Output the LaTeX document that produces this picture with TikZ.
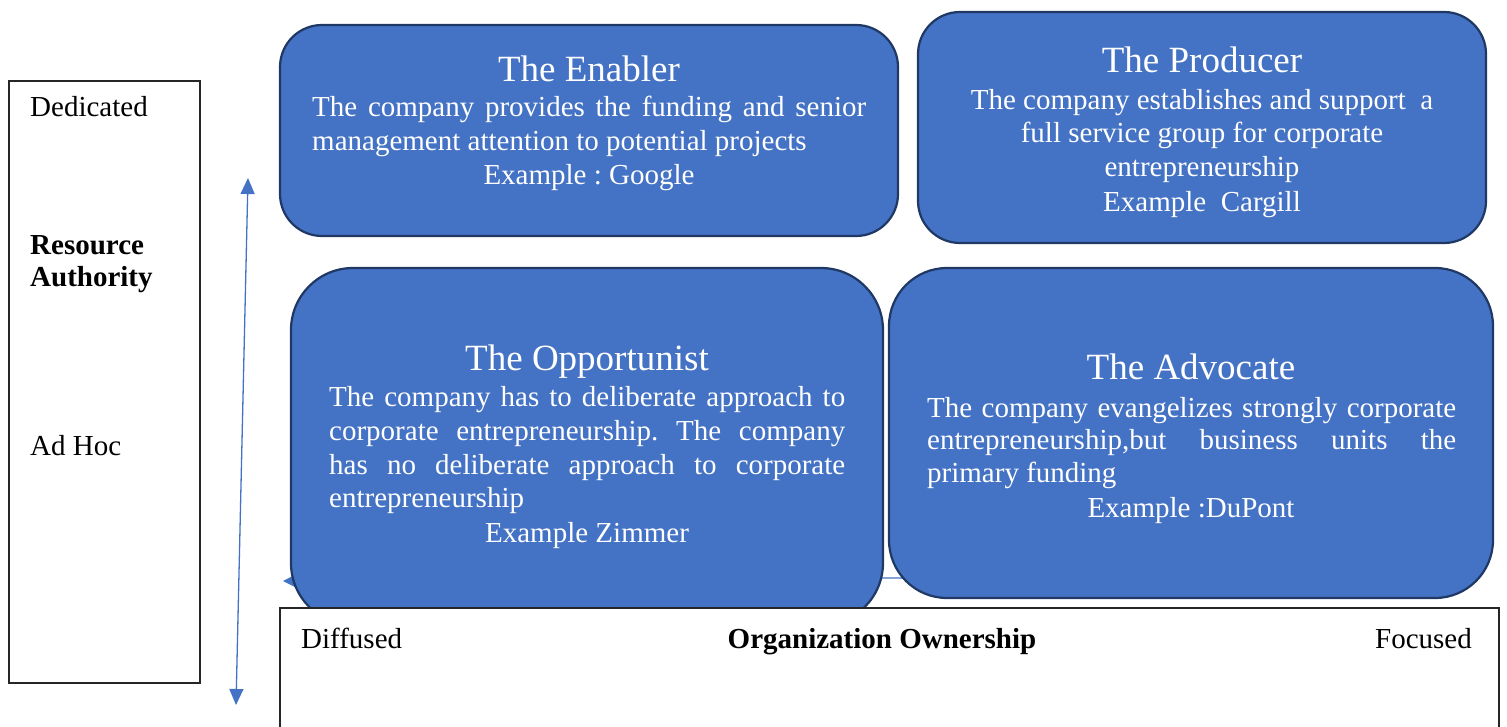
\documentclass[tikz,border=0pt]{standalone}
\usepackage{fontspec}
\setmainfont{Liberation Serif}
\usetikzlibrary{arrows.meta}
\definecolor{boxblue}{HTML}{4472C4}
\definecolor{boxedge}{HTML}{1F3864}
\frenchspacing
\begin{document}
\begin{tikzpicture}[x=1pt,y=-1pt,
  quad/.style={draw=boxedge, line width=2.2pt, fill=boxblue, rectangle, inner sep=0pt},
  ttl/.style={text=white, font=\fontsize{37}{44}\selectfont, inner sep=0pt, anchor=base},
  bod/.style={text=white, font=\fontsize{29}{34}\selectfont, inner sep=0pt, anchor=base west},
  bodc/.style={text=white, font=\fontsize{29}{34}\selectfont, inner sep=0pt, anchor=base},
  lbl/.style={text=black, font=\fontsize{29}{34}\selectfont, inner sep=0pt, anchor=base west},
  plainbox/.style={draw=black!85, line width=1.2pt, fill=white, rectangle, inner sep=0pt},
  vline/.style={draw=boxblue, line width=1.3pt, {Triangle[length=16pt,width=14pt]}-{Triangle[length=16pt,width=14pt]}},
  hline/.style={draw=boxblue, line width=1.3pt, -{Triangle[length=14pt,width=14pt]}},
]
\path[use as bounding box] (0,0) rectangle (1507,727);

% horizontal arrow (behind the boxes)
\coordinate (hstart) at (1300,576);
\coordinate (hend) at (283,581);
\draw[hline] (hstart) -- (hend);

% quadrant boxes
\node[quad, rounded corners=42pt, minimum width=618pt, minimum height=211pt] (enabler) at (589,130.5) {};
\node[quad, rounded corners=42pt, minimum width=568pt, minimum height=231pt] (producer) at (1202,127.5) {};
\node[quad, rounded corners=62pt, minimum width=592pt, minimum height=357pt] (opport) at (587,446.5) {};
\node[quad, rounded corners=58pt, minimum width=604pt, minimum height=330pt] (advocate) at (1191,433) {};

% Enabler text
\node[ttl] (enT) at (589,82) {The Enabler};
\node[bod] (en1) at (312,117) {\makebox[554pt][s]{The company provides the funding and senior}};
\node[bod] (en2) at (312,151) {management attention to potential projects};
\node[bodc] (en3) at (589,185) {Example : Google};

% Producer text
\node[ttl] (prT) at (1202,73) {The Producer};
\node[bodc] (pr1) at (1202,110) {The company establishes and support~ a};
\node[bodc] (pr2) at (1202,143) {full service group for corporate};
\node[bodc] (pr3) at (1202,177) {entrepreneurship};
\node[bodc] (pr4) at (1202,212) {Example~ Cargill};

% Opportunist text
\node[ttl] (opT) at (587,370) {The Opportunist};
\node[bod] (op1) at (329,406) {\makebox[516pt][s]{The company has to deliberate approach to}};
\node[bod] (op2) at (329,440) {\makebox[516pt][s]{corporate entrepreneurship. The company}};
\node[bod] (op3) at (329,474) {\makebox[516pt][s]{has no deliberate approach to corporate}};
\node[bod] (op4) at (329,507) {entrepreneurship};
\node[bodc] (op5) at (587,542) {Example Zimmer};

% Advocate text
\node[ttl] (adT) at (1191,379) {The Advocate};
\node[bod] (ad1) at (927,417) {\makebox[529pt][s]{The company evangelizes strongly corporate}};
\node[bod] (ad2) at (927,449) {\makebox[529pt][s]{entrepreneurship,but business units the}};
\node[bod] (ad3) at (927,482) {primary funding};
\node[bodc] (ad4) at (1191,517) {Example :DuPont};

% bottom axis box
\node[plainbox, minimum width=1219pt, minimum height=152pt] (ownbox) at (889.5,684) {};
\node[lbl] (diff) at (301,648) {Diffused};
\node[lbl, anchor=base] (own) at (882,648) {\bfseries Organization Ownership};
\node[lbl, anchor=base east] (foc) at (1472,648) {Focused};

% left axis box
\node[plainbox, minimum width=191pt, minimum height=602pt] (resbox) at (104.5,382) {};
\node[lbl] (ded) at (30,117) {Dedicated};
\node[lbl] (res1) at (30,255) {\bfseries Resource};
\node[lbl] (res2) at (30,287) {\bfseries Authority};
\node[lbl] (adhoc) at (30,455) {Ad Hoc};

% vertical arrow
\coordinate (vbot) at (236,705);
\coordinate (vtop) at (248,178);
\draw[vline] (vbot) -- (vtop);
\end{tikzpicture}
\end{document}
